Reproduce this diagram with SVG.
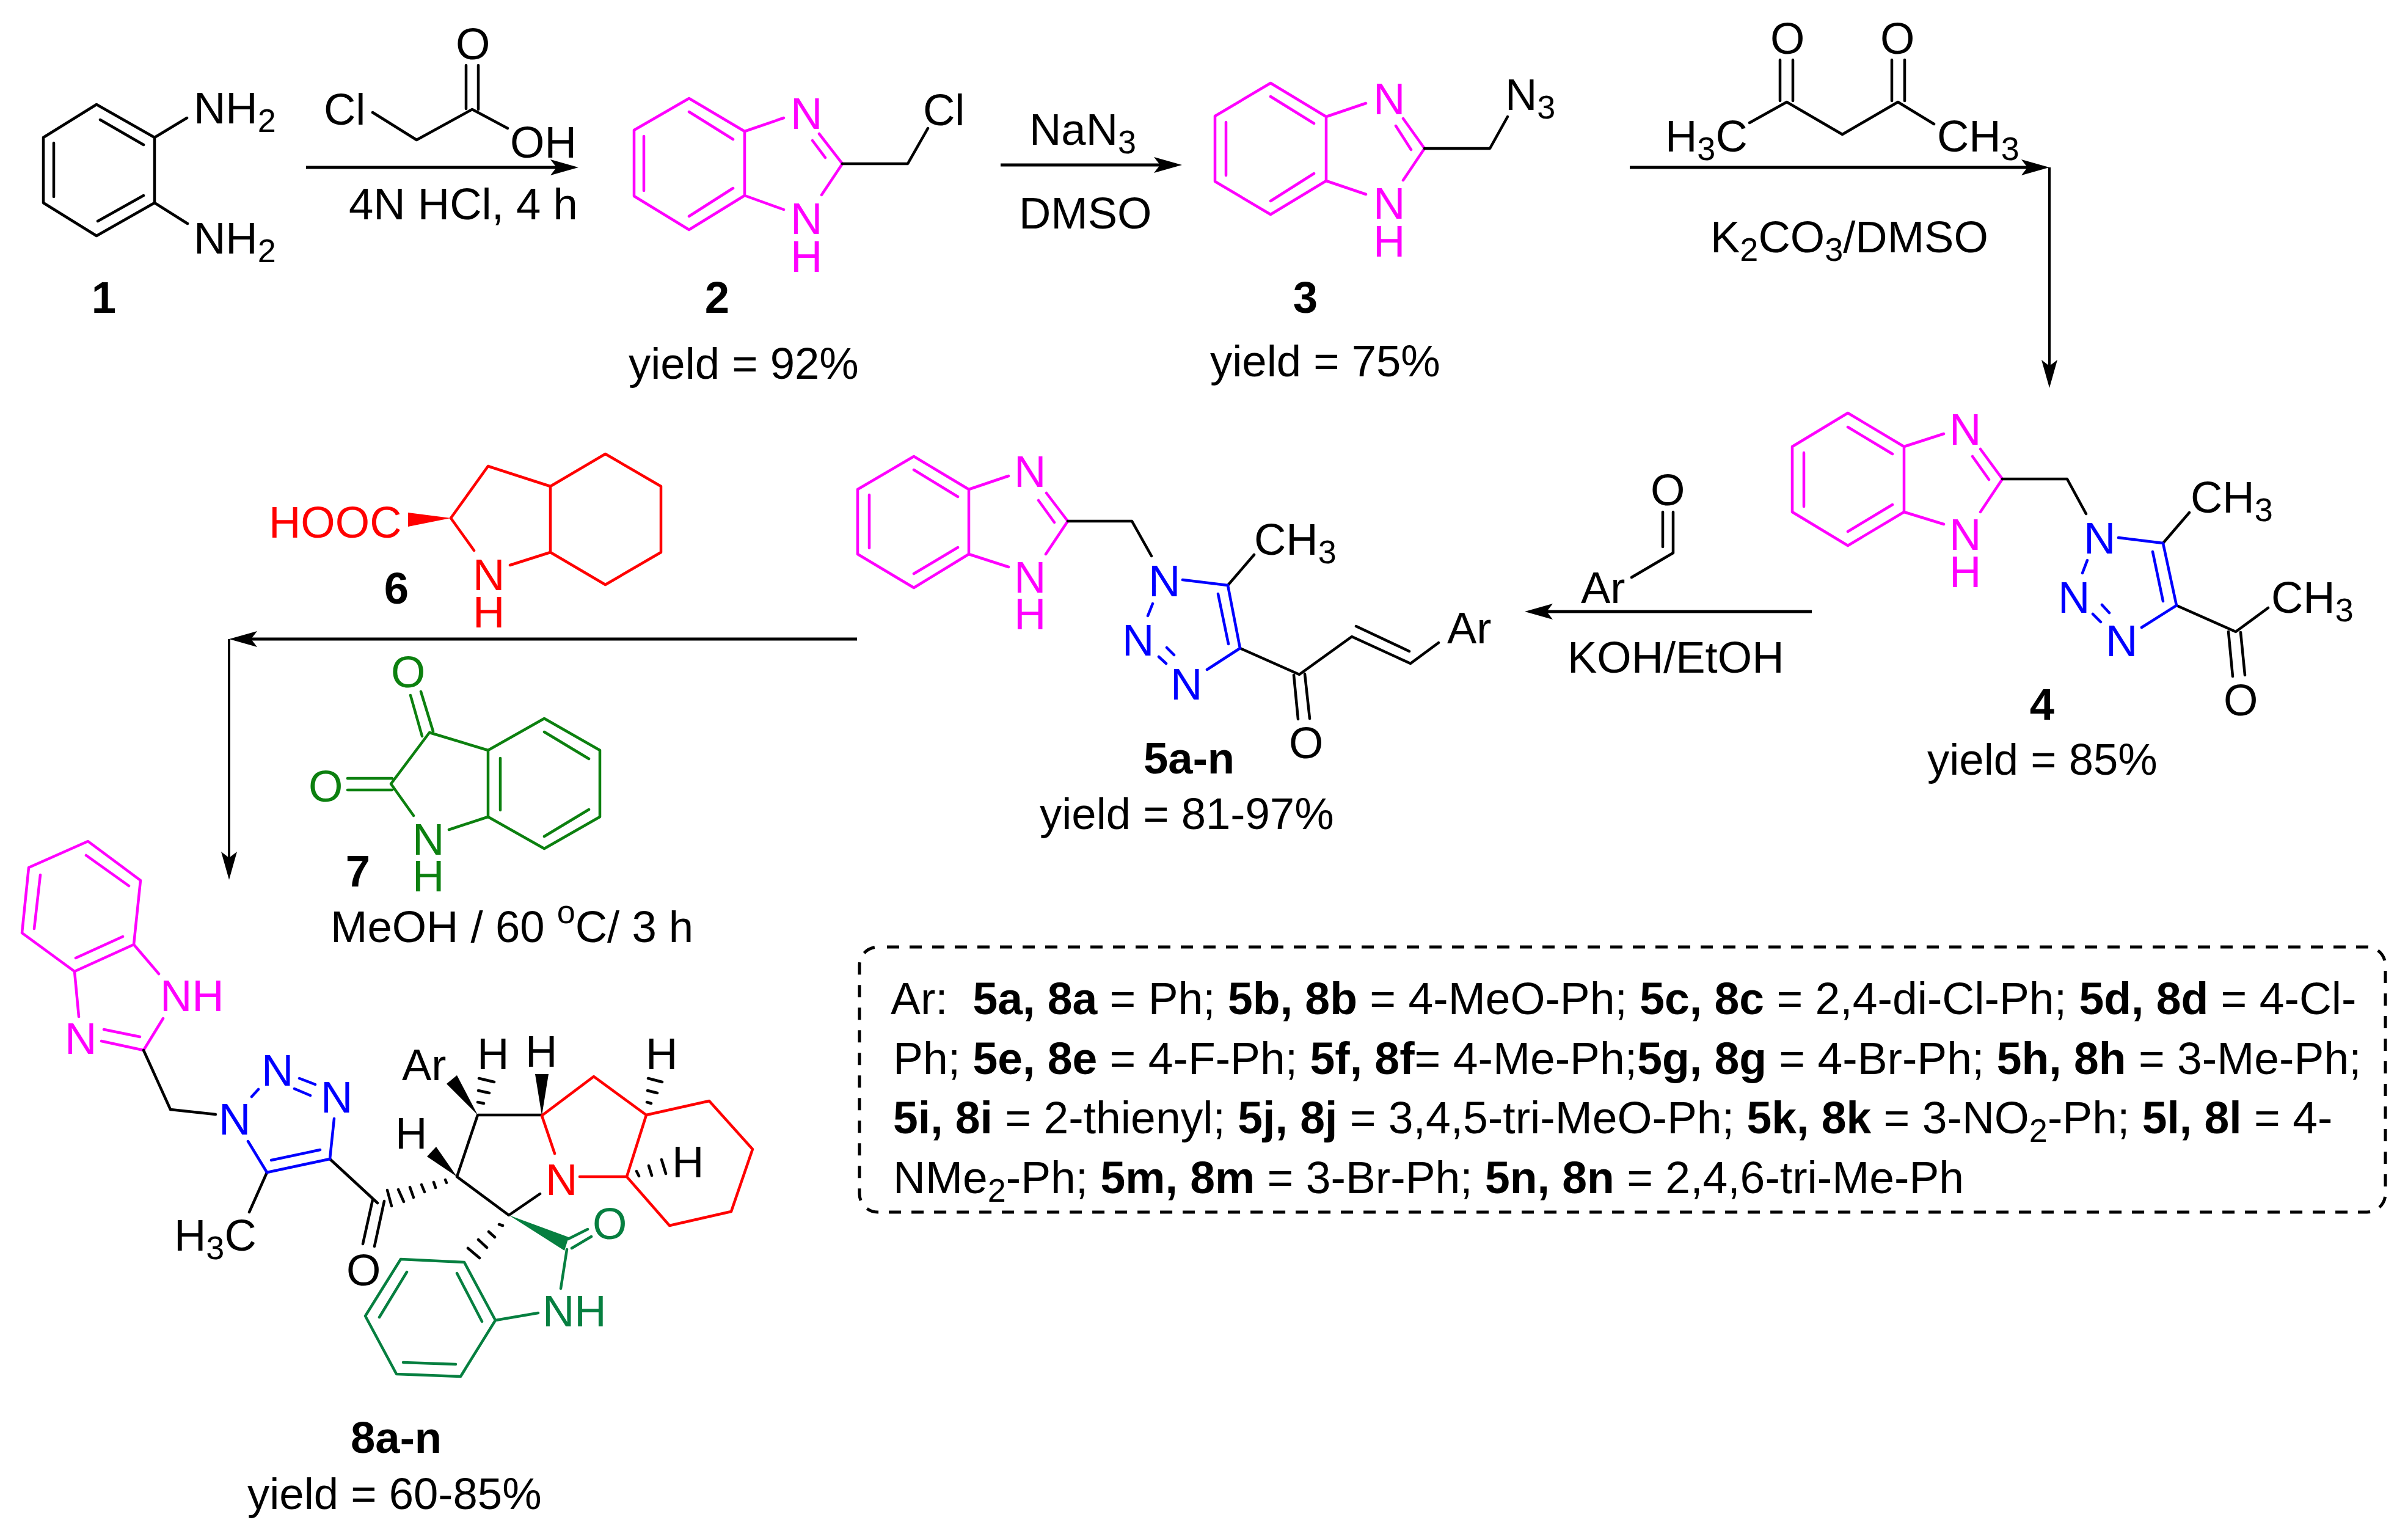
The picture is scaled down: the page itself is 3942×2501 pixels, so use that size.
<svg xmlns="http://www.w3.org/2000/svg" width="3942" height="2501" viewBox="0 0 3942 2501">
<style>
text{font-family:"Liberation Sans",Arial,sans-serif;font-size:72.5px;fill:#000}
.s{font-size:54px}
.l{font-weight:bold;text-anchor:middle}
.c{font-weight:bold}
#legend text{font-size:73.3px}
#legend .s{font-size:54px}
#legend .c{font-weight:bold}
.k,.m,.u,.r,.g,.h{fill:none;stroke-width:4.5;stroke-linecap:round;stroke-linejoin:round}
.k{stroke:#000}.m{stroke:#f0f}.u{stroke:#00f}.r{stroke:#f00}.g{stroke:#0c800f}.h{stroke:#067f40}
.tm{fill:#f0f}.tu{fill:#00f}.tr{fill:#f00}.tg{fill:#0c800f}.th{fill:#067f40}
.a{fill:none;stroke:#000;stroke-width:5}
.v{fill:none;stroke:#000;stroke-width:4}
</style>
<defs>
<marker id="ah" markerUnits="userSpaceOnUse" markerWidth="50" markerHeight="30" viewBox="0 -15 50 30" refX="26" refY="0" orient="auto"><path d="M0,-13 L46,0 L0,13 L10,0z" fill="#000"/></marker>
</defs>
<g id="connectors">
<path class="a" d="M501,274H927" marker-end="url(#ah)"/>
<path class="a" d="M1638,270H1915" marker-end="url(#ah)"/>
<path class="a" d="M2668,274H3335" marker-end="url(#ah)"/>
<path class="v" d="M3355,274V615" marker-end="url(#ah)"/>
<path class="a" d="M2966,1001H2516" marker-end="url(#ah)"/>
<path class="a" d="M1403,1046H395" marker-end="url(#ah)"/>
<path class="v" d="M375,1046V1420" marker-end="url(#ah)"/>
</g>
<g id="node-1">
<path class="k" d="M158,171L71,225V332L158,386L253,332V225ZM164,196L235,237M88,234V322M160,362L235,320M253,225L306,193M253,332L307,366"/>
<text x="317" y="202">NH<tspan class="s" dy="14">2</tspan></text>
<text x="317" y="415">NH<tspan class="s" dy="14">2</tspan></text>
<text class="l" x="170" y="512">1</text>
</g>
<g id="reagent-chloroacetic-acid">
<path class="k" d="M610,184L682,229L773,179L831,210M763,178V107M783,179V107"/>
<text x="530" y="204">Cl</text>
<text x="746" y="97">O</text>
<text x="835" y="258">OH</text>
<text x="571" y="359">4N HCl, 4 h</text>
</g>
<g id="node-2">
<path class="m" d="M1128,161L1038,213V321L1128,376L1219,320V215ZM1128,183L1200,228M1054,223V312M1128,354L1200,308M1219,215L1283,193M1219,320L1283,343M1341,219L1379,268M1330,230L1351,258M1379,268L1345,319"/>
<path class="k" d="M1379,268H1486L1519,210"/>
<text class="tm" x="1294" y="211">N</text>
<text class="tm" x="1294" y="383">N</text>
<text class="tm" x="1294" y="445">H</text>
<text x="1511" y="205">Cl</text>
<text class="l" x="1174" y="512">2</text>
<text x="1029" y="620">yield = 92%</text>
</g>
<g id="reagent-azide">
<text x="1685" y="237">NaN<tspan class="s" dy="14">3</tspan></text>
<text x="1668" y="374">DMSO</text>
</g>
<g id="node-3">
<path class="m" d="M2080,136L1989,190V297L2080,351L2171,296V191ZM2080,158L2151,202M2007,200V287M2080,329L2151,284M2171,191L2236,169M2171,296L2236,318M2297,194L2332,243M2285,206L2310,245M2332,243L2297,295"/>
<path class="k" d="M2332,243H2439L2468,191"/>
<text class="tm" x="2248" y="187">N</text>
<text class="tm" x="2248" y="358">N</text>
<text class="tm" x="2248" y="420">H</text>
<text x="2464" y="180">N<tspan class="s" dy="14">3</tspan></text>
<text class="l" x="2137" y="512">3</text>
<text x="1981" y="616">yield = 75%</text>
</g>
<g id="reagent-acetylacetone">
<path class="k" d="M2864,201L2925,167L3016,220L3107,167L3166,203M2914,165V98M2935,165V98M3097,165V98M3118,165V98"/>
<text x="2898" y="88">O</text>
<text x="3078" y="88">O</text>
<text x="2726" y="248">H<tspan class="s" dy="14">3</tspan><tspan dy="-14">C</tspan></text>
<text x="3171" y="248">CH<tspan class="s" dy="14">3</tspan></text>
<text x="2800" y="413">K<tspan class="s" dy="14">2</tspan><tspan dy="-14">CO</tspan><tspan class="s" dy="14">3</tspan><tspan dy="-14">/DMSO</tspan></text>
</g>
<g id="node-4">
<path class="m" d="M3025,676L2934,731V838L3025,893L3117,838V731ZM3025,699L3098,743M2953,741V829M3025,870L3098,826M3117,731L3182,710M3117,838L3182,858M3242,735L3278,784M3229,747L3256,785M3278,784L3242,838"/>
<path class="k" d="M3278,784H3384L3415,841M3541,889L3584,839M3563,991L3660,1034L3713,995M3648,1034L3655,1107M3668,1035L3675,1105"/>
<path class="u" d="M3468,880L3541,889L3563,991L3506,1027M3524,903L3541,984M3417,917L3409,938M3426,1005L3439,1018M3441,990L3453,1003"/>
<text class="tm" x="3191" y="728">N</text>
<text class="tm" x="3191" y="900">N</text>
<text class="tm" x="3191" y="961">H</text>
<text class="tu" x="3411" y="906">N</text>
<text class="tu" x="3369" y="1003">N</text>
<text class="tu" x="3447" y="1074">N</text>
<text x="3586" y="839">CH<tspan class="s" dy="14">3</tspan></text>
<text x="3718" y="1003">CH<tspan class="s" dy="14">3</tspan></text>
<text x="3640" y="1171">O</text>
<text class="l" x="3343" y="1178">4</text>
<text x="3155" y="1268">yield = 85%</text>
</g>
<g id="reagent-aldehyde">
<path class="k" d="M2671,945L2739,905V838M2722,895V838"/>
<text x="2702" y="827">O</text>
<text x="2588" y="987">Ar</text>
<text x="2566" y="1101">KOH/EtOH</text>
</g>
<g id="node-5">
<path class="m" d="M1496,747L1404,801V907L1496,962L1586,907V801ZM1496,769L1568,813M1423,810V897M1496,939L1568,896M1586,801L1651,779M1586,907L1651,928M1713,807L1748,853M1700,819L1726,855M1748,853L1712,907"/>
<path class="k" d="M1748,853H1853L1885,910M2010,958L2053,908M2030,1061L2127,1104L2213,1042L2309,1086L2355,1052M2220,1025L2307,1066M2118,1105L2125,1177M2136,1103L2144,1176"/>
<path class="u" d="M1936,949L2010,958L2030,1061L1976,1096M1994,972L2011,1054M1887,988L1879,1008M1897,1075L1909,1086M1910,1060L1922,1072"/>
<text class="tm" x="1660" y="797">N</text>
<text class="tm" x="1660" y="970">N</text>
<text class="tm" x="1660" y="1030">H</text>
<text class="tu" x="1880" y="976">N</text>
<text class="tu" x="1837" y="1073">N</text>
<text class="tu" x="1916" y="1145">N</text>
<text x="2053" y="908">CH<tspan class="s" dy="14">3</tspan></text>
<text x="2369" y="1053">Ar</text>
<text x="2110" y="1241">O</text>
<text class="c" x="1872" y="1266">5a-n</text>
<text x="1702" y="1357">yield = 81-97%</text>
</g>
<g id="node-6">
<path class="r" d="M776,901L738,848L799,763L901,796V904L835,925M901,796L991,743L1082,796V904L991,957L901,904"/>
<path d="M738,848L668,839V862Z" fill="#f00"/>
<text class="tr" x="440" y="880">HOOC</text>
<text class="tr" x="774" y="966">N</text>
<text class="tr" x="774" y="1027">H</text>
<text class="l" x="649" y="988">6</text>
</g>
<g id="node-7">
<path class="g" d="M677,1335L640,1283L703,1199L799,1228V1337L735,1358M799,1228L891,1176L982,1228V1337L891,1389L799,1337M819,1241V1326M891,1198L964,1242M891,1369L964,1325M672,1138L691,1205M689,1132L709,1197M569,1274H642M569,1293H642"/>
<text class="tg" x="640" y="1125">O</text>
<text class="tg" x="505" y="1312">O</text>
<text class="tg" x="675" y="1399">N</text>
<text class="tg" x="675" y="1459">H</text>
<text class="l" x="586" y="1451">7</text>
<text x="541" y="1542">MeOH / 60 <tspan class="s" dy="-31">o</tspan><tspan dy="31">C/ 3 h</tspan></text>
</g>
<g id="node-8">
<path class="m" d="M144,1377L230,1441L219,1546L122,1590L36,1527L47,1420ZM141,1400L211,1450M201,1533L124,1568M56,1520L66,1432M219,1546L260,1594M122,1590L129,1664M235,1719L166,1704M229,1697L170,1685M235,1719L267,1667"/>
<path class="k" d="M235,1719L279,1816L353,1824M437,1919L408,1984M540,1897L618,1969M610,1964L594,2036M629,1966L613,2040M748,1926L782,1825H887M748,1926L833,1989L884,1954"/>
<path class="k" d="M634,1948L641,1974M652,1947L661,1967M671,1943L677,1960M690,1939L695,1951M710,1935L713,1944M729,1931L731,1936M784,1765L809,1771M783,1785L801,1789M782,1804L792,1806M1061,1765L1084,1771M1060,1785L1076,1789M1059,1804L1066,1806M1042,1917L1046,1925M1062,1908L1067,1924M1083,1898L1090,1921M817,2004L823,2006M800,2016L810,2025M783,2029L797,2042M766,2043L785,2059"/>
<path d="M782,1825L731,1774L748,1760ZM887,1826L876,1758H898ZM748,1926L699,1893L714,1877Z" fill="#000"/>
<path d="M833,1989L931,2025L924,2047Z" fill="#067f40"/>
<path class="u" d="M406,1868L437,1919L540,1897L547,1831M444,1899L524,1882M412,1795L423,1783M482,1782L508,1793M490,1765L516,1775"/>
<path class="r" d="M908,1888L887,1826L972,1762L1058,1825L1026,1926H949M1058,1825L1161,1802L1232,1881L1197,1983L1096,2006L1026,1926"/>
<path class="h" d="M930,2028L962,2012M936,2043L968,2024M928,2045L918,2109M881,2149L811,2161L760,2066L656,2061L598,2154L649,2249L754,2253L811,2161M748,2084L789,2163M666,2082L621,2156M660,2230L746,2233"/>
<text class="tm" x="262" y="1655">NH</text>
<text class="tm" x="106" y="1725">N</text>
<text class="tu" x="358" y="1857">N</text>
<text class="tu" x="428" y="1777">N</text>
<text class="tu" x="525" y="1821">N</text>
<text x="285" y="2047">H<tspan class="s" dy="14">3</tspan><tspan dy="-14">C</tspan></text>
<text x="567" y="2104">O</text>
<text x="658" y="1768">Ar</text>
<text x="781" y="1750">H</text>
<text x="860" y="1746">H</text>
<text x="1057" y="1750">H</text>
<text x="1100" y="1927">H</text>
<text x="647" y="1880">H</text>
<text class="tr" x="893" y="1956">N</text>
<text class="th" x="970" y="2028">O</text>
<text class="th" x="888" y="2171">NH</text>
<text class="c" x="574" y="2378">8a-n</text>
<text x="405" y="2470">yield = 60-85%</text>
</g>
<g id="legend">
<rect x="1407" y="1550" width="2498" height="434" rx="30" fill="none" stroke="#000" stroke-width="5" stroke-dasharray="20 17" stroke-dashoffset="22"/>
<text xml:space="preserve" x="1458" y="1660">Ar:  <tspan class="c">5a, 8a</tspan> = Ph; <tspan class="c">5b, 8b</tspan> = 4-MeO-Ph; <tspan class="c">5c, 8c</tspan> = 2,4-di-Cl-Ph; <tspan class="c">5d, 8d</tspan> = 4-Cl-</text>
<text xml:space="preserve" x="1462" y="1758">Ph; <tspan class="c">5e, 8e</tspan> = 4-F-Ph; <tspan class="c">5f, 8f</tspan>= 4-Me-Ph;<tspan class="c">5g, 8g</tspan> = 4-Br-Ph; <tspan class="c">5h, 8h</tspan> = 3-Me-Ph;</text>
<text xml:space="preserve" x="1462" y="1855"><tspan class="c">5i, 8i</tspan> = 2-thienyl; <tspan class="c">5j, 8j</tspan> = 3,4,5-tri-MeO-Ph; <tspan class="c">5k, 8k</tspan> = 3-NO<tspan class="s" dy="14">2</tspan><tspan dy="-14">-Ph; </tspan><tspan class="c">5l, 8l</tspan> = 4-</text>
<text xml:space="preserve" x="1462" y="1953">NMe<tspan class="s" dy="14">2</tspan><tspan dy="-14">-Ph; </tspan><tspan class="c">5m, 8m</tspan> = 3-Br-Ph; <tspan class="c">5n, 8n</tspan> = 2,4,6-tri-Me-Ph</text>
</g>
</svg>
